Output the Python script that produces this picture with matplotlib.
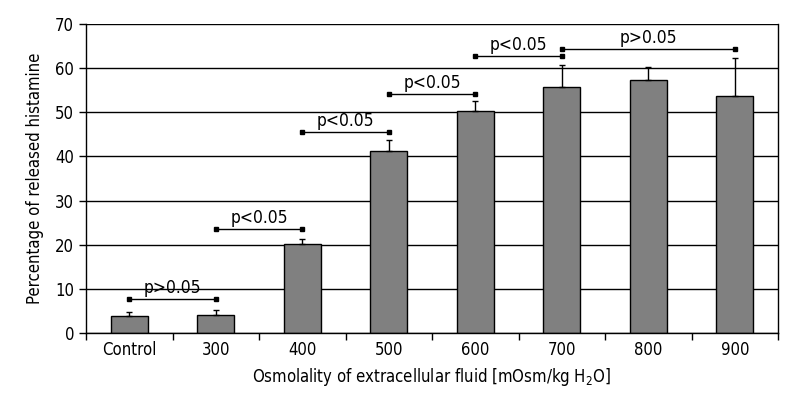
import numpy as np
import matplotlib.pyplot as plt

plt.rcParams['font.family'] = ['DejaVu Sans']
plt.rcParams['font.stretch'] = 'condensed'

categories = ['Control', '300', '400', '500', '600', '700', '800', '900']
means = [3.9, 4.1, 20.1, 41.3, 50.4, 55.8, 57.3, 53.7]
errors = [0.9, 1.1, 1.3, 2.5, 2.2, 4.8, 3.0, 8.7]

# significance brackets: (start idx, end idx, height, label)
brackets = [
    (0, 1, 7.6, 'p>0.05'),
    (1, 2, 23.5, 'p<0.05'),
    (2, 3, 45.6, 'p<0.05'),
    (3, 4, 54.2, 'p<0.05'),
    (4, 5, 62.7, 'p<0.05'),
    (5, 7, 64.3, 'p>0.05'),
]

fig = plt.figure(figsize=(8, 4), dpi=100)
ax = fig.add_axes([0.1075, 0.1675, 0.865, 0.7725])

x = np.arange(len(categories))
ax.set_axisbelow(True)
ax.yaxis.grid(True, color='black', lw=1)
ax.bar(x, means, width=0.43, color='#808080', edgecolor='black', lw=1, zorder=2)
ax.errorbar(x, means, yerr=[np.zeros(len(errors)), errors], fmt='none',
            ecolor='black', elinewidth=1, capsize=2.5, capthick=1, zorder=3)

for i, j, h, lab in brackets:
    ax.plot([x[i], x[j]], [h, h], color='black', lw=1, marker='s', ms=3.5, zorder=4)
    ax.text((x[i] + x[j]) / 2, h + 0.5, lab, ha='center', va='bottom', fontsize=12.5)

ax.set_xlim(-0.5, len(categories) - 0.5)
ax.set_ylim(0, 70)
ax.set_yticks(range(0, 71, 10))
ax.set_xticks(x)
ax.set_xticklabels(categories)
ax.set_xticks(np.arange(-0.5, len(categories), 1), minor=True)
ax.tick_params(axis='x', which='major', length=0, labelsize=12, pad=6)
ax.tick_params(axis='x', which='minor', length=5, width=1, direction='out')
ax.tick_params(axis='y', length=5, width=1, labelsize=12)
for s in ax.spines.values():
    s.set_linewidth(1)
ax.spines['top'].set_visible(False)

ax.set_ylabel('Percentage of released histamine', fontsize=12, labelpad=8)
ax.set_xlabel('Osmolality of extracellular fluid [mOsm/kg H$_2$O]', fontsize=12, labelpad=5)

fig.savefig('out.png', dpi=100)
